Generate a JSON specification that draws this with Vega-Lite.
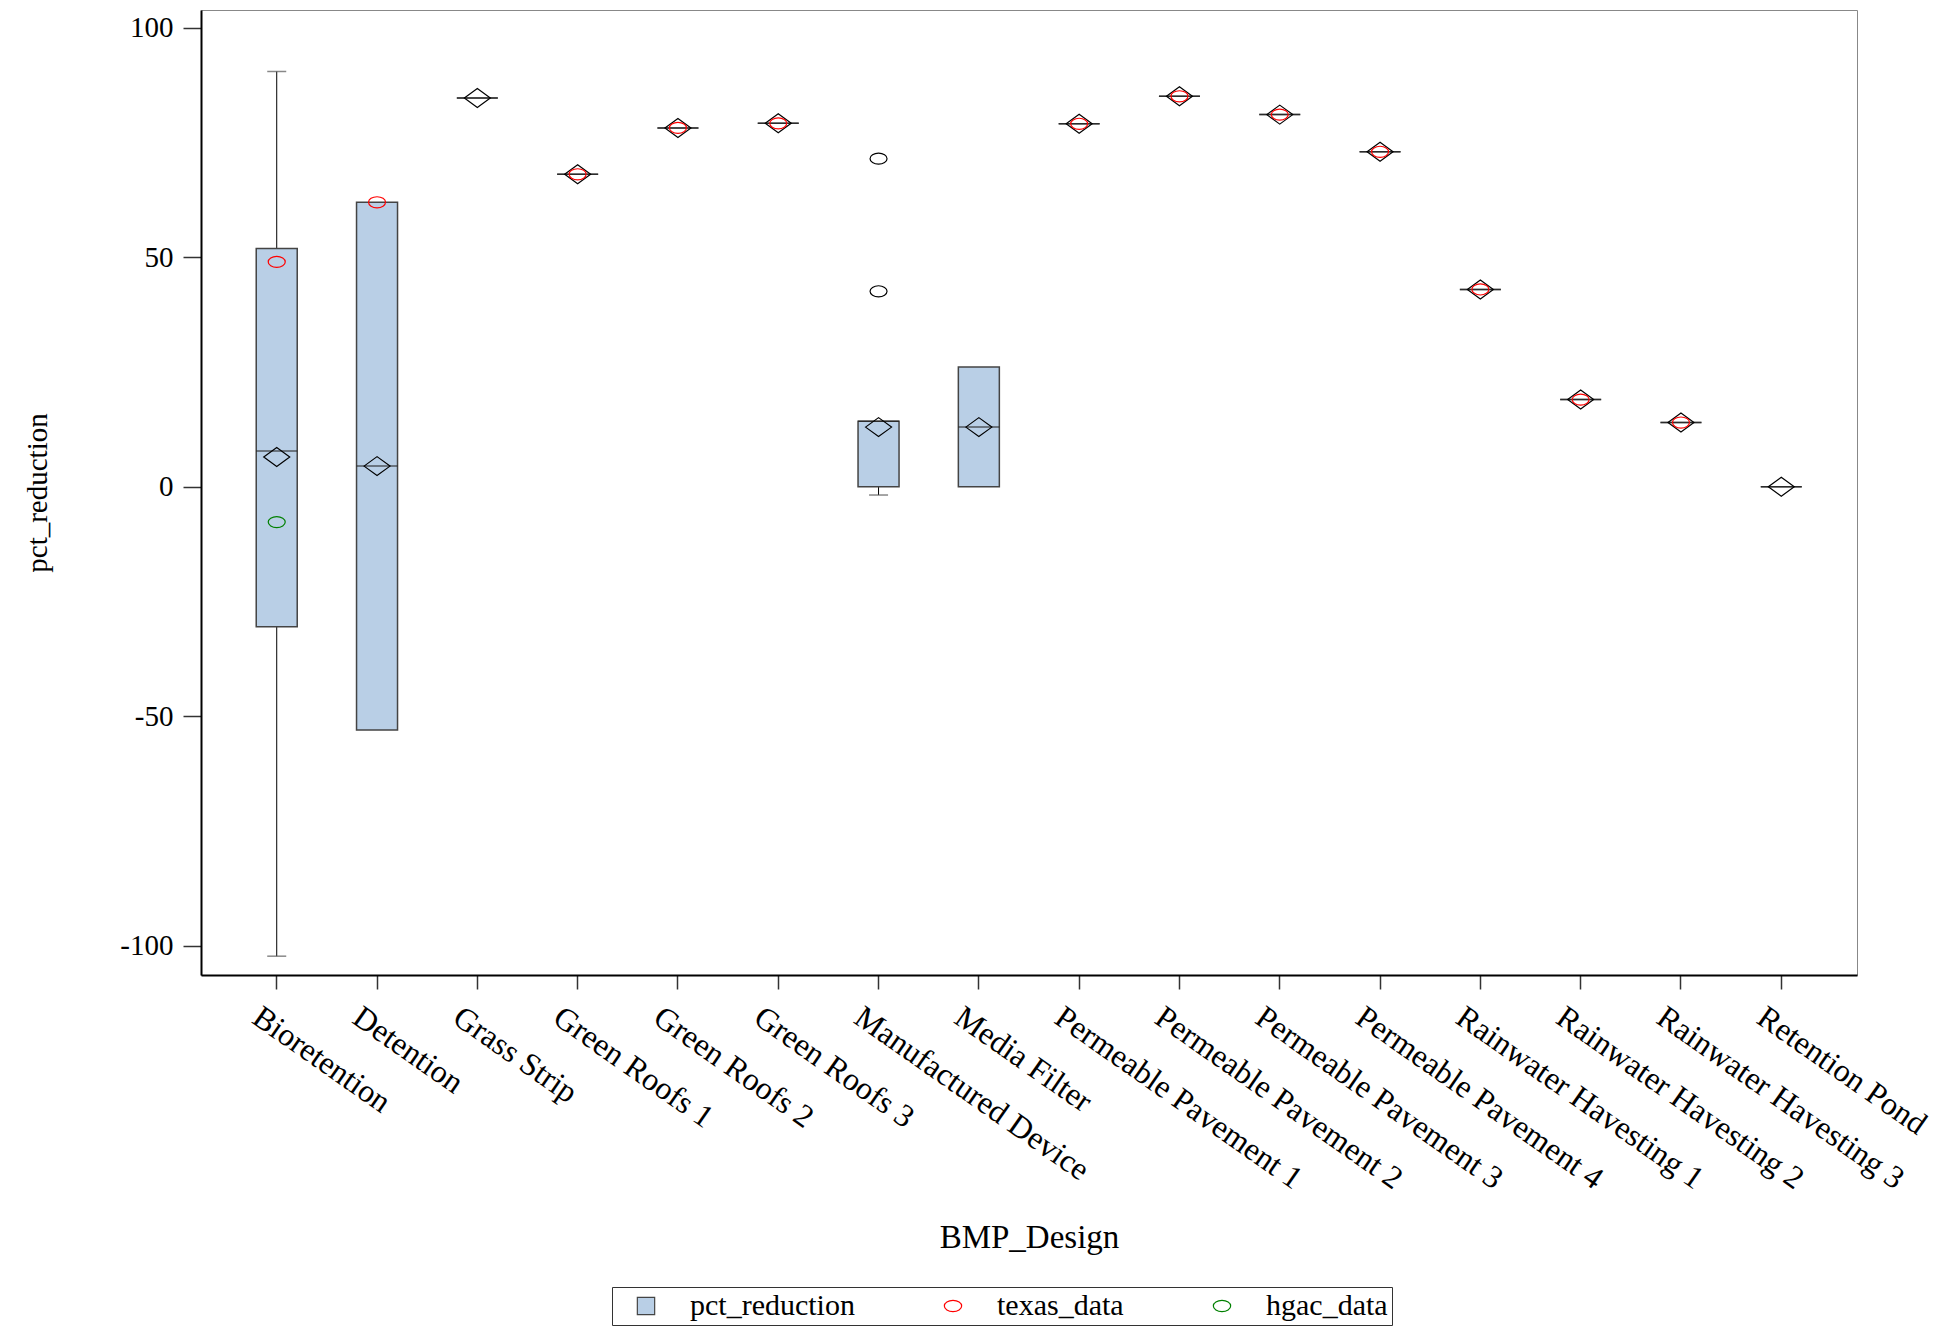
{
  "$schema": "https://vega.github.io/schema/vega-lite/v6.json",
  "width": 1656,
  "height": 965,
  "autosize": {"type": "none"},
  "padding": {"left": 201, "top": 10, "right": 89, "bottom": 352},
  "background": "white",
  "config": {
    "font": "Liberation Serif",
    "view": {"stroke": "#888", "strokeWidth": 1},
    "axis": {"grid": false, "labelColor": "black", "titleColor": "black", "titleFontWeight": "normal", "domainColor": "black", "domainWidth": 2, "tickColor": "#333", "tickWidth": 1.5}
  },
  "datasets": {
    "boxes": [
      {"BMP_Design": "Bioretention", "whisker_low": -102.3, "q1": -30.5, "median": 7.8, "q3": 51.9, "whisker_high": 90.5, "mean": 6.5, "texas_data": 49.0, "hgac_data": -7.7},
      {"BMP_Design": "Detention", "whisker_low": null, "q1": -53.0, "median": 4.5, "q3": 62.0, "whisker_high": null, "mean": 4.5, "texas_data": 62.0, "hgac_data": null},
      {"BMP_Design": "Grass Strip", "whisker_low": null, "q1": 84.7, "median": 84.7, "q3": 84.7, "whisker_high": null, "mean": 84.7, "texas_data": null, "hgac_data": null},
      {"BMP_Design": "Green Roofs 1", "whisker_low": null, "q1": 68.1, "median": 68.1, "q3": 68.1, "whisker_high": null, "mean": 68.1, "texas_data": 68.1, "hgac_data": null},
      {"BMP_Design": "Green Roofs 2", "whisker_low": null, "q1": 78.2, "median": 78.2, "q3": 78.2, "whisker_high": null, "mean": 78.2, "texas_data": 78.2, "hgac_data": null},
      {"BMP_Design": "Green Roofs 3", "whisker_low": null, "q1": 79.2, "median": 79.2, "q3": 79.2, "whisker_high": null, "mean": 79.2, "texas_data": 79.2, "hgac_data": null},
      {"BMP_Design": "Manufactured Device", "whisker_low": -1.8, "q1": 0.0, "median": 14.3, "q3": 14.3, "whisker_high": null, "mean": 13.0, "texas_data": null, "hgac_data": null},
      {"BMP_Design": "Media Filter", "whisker_low": null, "q1": 0.0, "median": 13.0, "q3": 26.1, "whisker_high": null, "mean": 13.0, "texas_data": null, "hgac_data": null},
      {"BMP_Design": "Permeable Pavement 1", "whisker_low": null, "q1": 79.1, "median": 79.1, "q3": 79.1, "whisker_high": null, "mean": 79.1, "texas_data": 79.1, "hgac_data": null},
      {"BMP_Design": "Permeable Pavement 2", "whisker_low": null, "q1": 85.1, "median": 85.1, "q3": 85.1, "whisker_high": null, "mean": 85.1, "texas_data": 85.1, "hgac_data": null},
      {"BMP_Design": "Permeable Pavement 3", "whisker_low": null, "q1": 81.1, "median": 81.1, "q3": 81.1, "whisker_high": null, "mean": 81.1, "texas_data": 81.1, "hgac_data": null},
      {"BMP_Design": "Permeable Pavement 4", "whisker_low": null, "q1": 73.0, "median": 73.0, "q3": 73.0, "whisker_high": null, "mean": 73.0, "texas_data": 73.0, "hgac_data": null},
      {"BMP_Design": "Rainwater Havesting 1", "whisker_low": null, "q1": 43.0, "median": 43.0, "q3": 43.0, "whisker_high": null, "mean": 43.0, "texas_data": 43.0, "hgac_data": null},
      {"BMP_Design": "Rainwater Havesting 2", "whisker_low": null, "q1": 19.0, "median": 19.0, "q3": 19.0, "whisker_high": null, "mean": 19.0, "texas_data": 19.0, "hgac_data": null},
      {"BMP_Design": "Rainwater Havesting 3", "whisker_low": null, "q1": 14.0, "median": 14.0, "q3": 14.0, "whisker_high": null, "mean": 14.0, "texas_data": 14.0, "hgac_data": null},
      {"BMP_Design": "Retention Pond", "whisker_low": null, "q1": 0.0, "median": 0.0, "q3": 0.0, "whisker_high": null, "mean": 0.0, "texas_data": null, "hgac_data": null}
    ],
    "outliers": [
      {"BMP_Design": "Manufactured Device", "pct_reduction": 71.5},
      {"BMP_Design": "Manufactured Device", "pct_reduction": 42.6}
    ]
  },
  "data": {"name": "boxes"},
  "encoding": {
    "x": {
      "field": "BMP_Design", "type": "nominal", "sort": null,
      "scale": {"type": "band", "paddingInner": 0, "paddingOuter": 0.255,
        "domain": ["Bioretention", "Detention", "Grass Strip", "Green Roofs 1", "Green Roofs 2", "Green Roofs 3", "Manufactured Device", "Media Filter", "Permeable Pavement 1", "Permeable Pavement 2", "Permeable Pavement 3", "Permeable Pavement 4", "Rainwater Havesting 1", "Rainwater Havesting 2", "Rainwater Havesting 3", "Retention Pond"]},
      "axis": {"title": "BMP_Design", "titleFontSize": 33, "titleY": 262, "titleBaseline": "middle", "labelAngle": 35, "labelAlign": "left", "labelBaseline": "top", "labelFontSize": 32, "labelPadding": 12, "labelOffset": -12, "tickSize": 14, "labelLimit": 500}
    }
  },
  "layer": [
    {
      "mark": {"type": "rule", "color": "black", "strokeWidth": 1},
      "encoding": {
        "y": {"field": "whisker_low", "type": "quantitative", "scale": {"domain": [-106.4, 103.9], "nice": false, "zero": false},
          "axis": {"title": "pct_reduction", "titleFontSize": 29, "titleX": -164, "titleBaseline": "middle", "values": [-100, -50, 0, 50, 100], "labelExpr": "replace(datum.label, '\u2212', '-')", "labelFontSize": 29, "tickSize": 18, "labelPadding": 10}},
        "y2": {"field": "q1"}
      }
    },
    {
      "mark": {"type": "rule", "color": "black", "strokeWidth": 1},
      "encoding": {
        "y": {"field": "whisker_high", "type": "quantitative"},
        "y2": {"field": "q3"}
      }
    },
    {
      "mark": {"type": "tick", "color": "#555", "size": 19, "thickness": 1.5},
      "encoding": {"y": {"field": "whisker_low", "type": "quantitative"}}
    },
    {
      "mark": {"type": "tick", "color": "#555", "size": 19, "thickness": 1.5},
      "encoding": {"y": {"field": "whisker_high", "type": "quantitative"}}
    },
    {
      "mark": {"type": "bar", "width": 41, "strokeWidth": 1.5},
      "encoding": {
        "y": {"field": "q1", "type": "quantitative"},
        "y2": {"field": "q3"},
        "fill": {"datum": "pct_reduction", "type": "nominal",
          "scale": {"domain": ["pct_reduction", "texas_data", "hgac_data"], "range": ["#b9cfe6", "transparent", "transparent"]},
          "legend": {"title": null, "orient": "none", "legendX": 411, "legendY": 1277, "direction": "horizontal", "strokeColor": "#333", "padding": 4, "labelFontSize": 30, "labelColor": "black", "labelLimit": 400, "symbolSize": 300, "symbolStrokeWidth": 1.2, "symbolOffset": 15, "labelOffset": 29, "columnPadding": 68}},
        "stroke": {"datum": "pct_reduction", "type": "nominal",
          "scale": {"domain": ["pct_reduction", "texas_data", "hgac_data"], "range": ["#444444", "#ff0000", "#008000"]},
          "legend": {"title": null, "orient": "none", "legendX": 411, "legendY": 1277, "direction": "horizontal", "strokeColor": "#333", "padding": 4, "labelFontSize": 30, "labelColor": "black", "labelLimit": 400, "symbolSize": 300, "symbolStrokeWidth": 1.2, "symbolOffset": 15, "labelOffset": 29, "columnPadding": 68}}
      }
    },
    {
      "mark": {"type": "tick", "color": "#222", "size": 41, "thickness": 1.5},
      "encoding": {"y": {"field": "median", "type": "quantitative"}}
    },
    {
      "mark": {"type": "point", "shape": "M-1,0L0,-0.73L1,0L0,0.73Z", "size": 676, "filled": false, "color": "black", "strokeWidth": 1.2, "opacity": 1},
      "encoding": {"y": {"field": "mean", "type": "quantitative"}}
    },
    {
      "data": {"name": "outliers"},
      "mark": {"type": "point", "shape": "M-1,0A1,0.65,0,1,1,1,0A1,0.65,0,1,1,-1,0Z", "size": 289, "filled": false, "color": "black", "strokeWidth": 1.2, "opacity": 1},
      "encoding": {"y": {"field": "pct_reduction", "type": "quantitative"}}
    },
    {
      "transform": [{"fold": ["texas_data", "hgac_data"], "as": ["series", "value"]}],
      "mark": {"type": "point", "size": 289, "strokeWidth": 1.2, "opacity": 1},
      "encoding": {
        "y": {"field": "value", "type": "quantitative"},
        "fill": {"field": "series", "type": "nominal",
          "scale": {"domain": ["pct_reduction", "texas_data", "hgac_data"], "range": ["#b9cfe6", "transparent", "transparent"]},
          "legend": {"title": null, "orient": "none", "legendX": 411, "legendY": 1277, "direction": "horizontal", "strokeColor": "#333", "padding": 4, "labelFontSize": 30, "labelColor": "black", "labelLimit": 400, "symbolSize": 300, "symbolStrokeWidth": 1.2, "symbolOffset": 15, "labelOffset": 29, "columnPadding": 68}},
        "stroke": {"field": "series", "type": "nominal",
          "scale": {"domain": ["pct_reduction", "texas_data", "hgac_data"], "range": ["#444444", "#ff0000", "#008000"]},
          "legend": {"title": null, "orient": "none", "legendX": 411, "legendY": 1277, "direction": "horizontal", "strokeColor": "#333", "padding": 4, "labelFontSize": 30, "labelColor": "black", "labelLimit": 400, "symbolSize": 300, "symbolStrokeWidth": 1.2, "symbolOffset": 15, "labelOffset": 29, "columnPadding": 68}},
        "shape": {"field": "series", "type": "nominal",
          "scale": {"domain": ["pct_reduction", "texas_data", "hgac_data"], "range": ["square", "M-1,0A1,0.65,0,1,1,1,0A1,0.65,0,1,1,-1,0Z", "M-1,0A1,0.65,0,1,1,1,0A1,0.65,0,1,1,-1,0Z"]},
          "legend": {"title": null, "orient": "none", "legendX": 411, "legendY": 1277, "direction": "horizontal", "strokeColor": "#333", "padding": 4, "labelFontSize": 30, "labelColor": "black", "labelLimit": 400, "symbolSize": 300, "symbolStrokeWidth": 1.2, "symbolOffset": 15, "labelOffset": 29, "columnPadding": 68}}
      }
    }
  ]
}
